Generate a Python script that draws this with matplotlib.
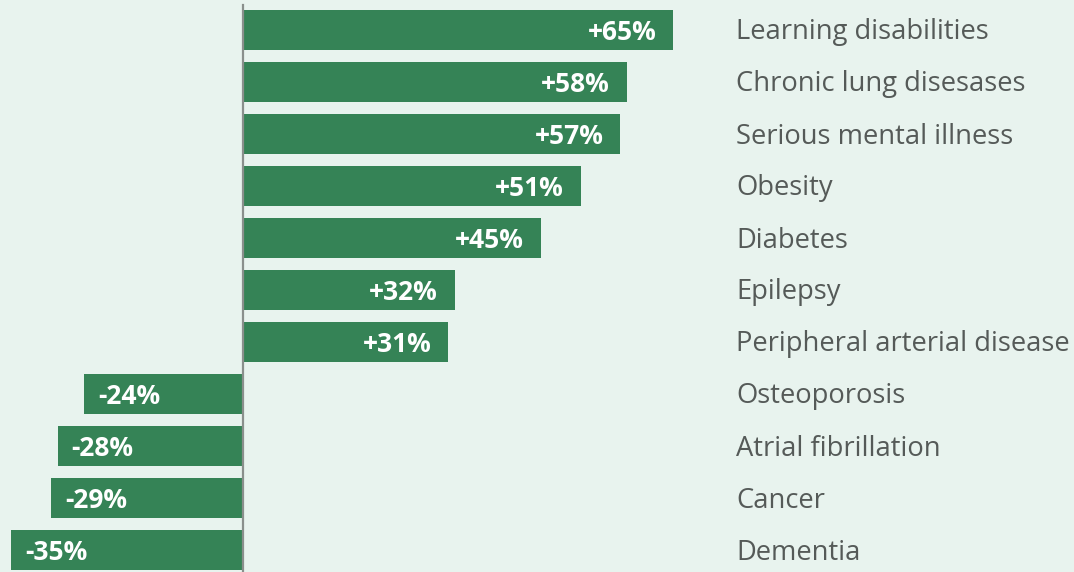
import matplotlib
matplotlib.use("Agg")
import matplotlib.pyplot as plt

conditions = [
    "Learning disabilities",
    "Chronic lung disesases",
    "Serious mental illness",
    "Obesity",
    "Diabetes",
    "Epilepsy",
    "Peripheral arterial disease",
    "Osteoporosis",
    "Atrial fibrillation",
    "Cancer",
    "Dementia",
]
change_pct = [65, 58, 57, 51, 45, 32, 31, -24, -28, -29, -35]
value_labels = ["+65%", "+58%", "+57%", "+51%", "+45%", "+32%", "+31%",
                "-24%", "-28%", "-29%", "-35%"]

bg = "#e8f3ee"
bar_color = "#358356"
text_gray = "#555a58"

plt.rcParams["font.family"] = ["Open Sans", "DejaVu Sans"]

fig = plt.figure(figsize=(10.74, 5.72), dpi=100, facecolor=bg)
ax = fig.add_axes([0, 0, 1, 1], facecolor=bg)

px_per_unit = 6.62
x_left = -243 / px_per_unit
x_right = x_left + 1074 / px_per_unit
pitch = 52.0
y_top = -30 / pitch
y_bottom = (572 - 30) / pitch

ypos = list(range(len(conditions)))
ax.barh(ypos, change_pct, height=40 / pitch, color=bar_color, zorder=2)

ax.set_xlim(x_left, x_right)
ax.set_ylim(y_bottom, y_top)
ax.axis("off")

# zero baseline
ax.plot([0, 0], [y_bottom, -25 / pitch], color="#8a8f8c", lw=1.6, zorder=3)

label_x = (736 - 243) / px_per_unit
dy = 2.5 / pitch
for y, v, lab, name in zip(ypos, change_pct, value_labels, conditions):
    if v >= 0:
        ax.text(v - 17 / px_per_unit, y + dy, lab, ha="right", va="center",
                color="white", fontsize=19, fontweight="bold", zorder=4)
    else:
        ax.text(v + 14 / px_per_unit, y + dy, lab, ha="left", va="center",
                color="white", fontsize=19, fontweight="bold", zorder=4)
    ax.text(label_x, y + dy, name, ha="left", va="center", color=text_gray,
            fontsize=19.7, zorder=4)

fig.savefig("out.png", dpi=100, facecolor=bg)
